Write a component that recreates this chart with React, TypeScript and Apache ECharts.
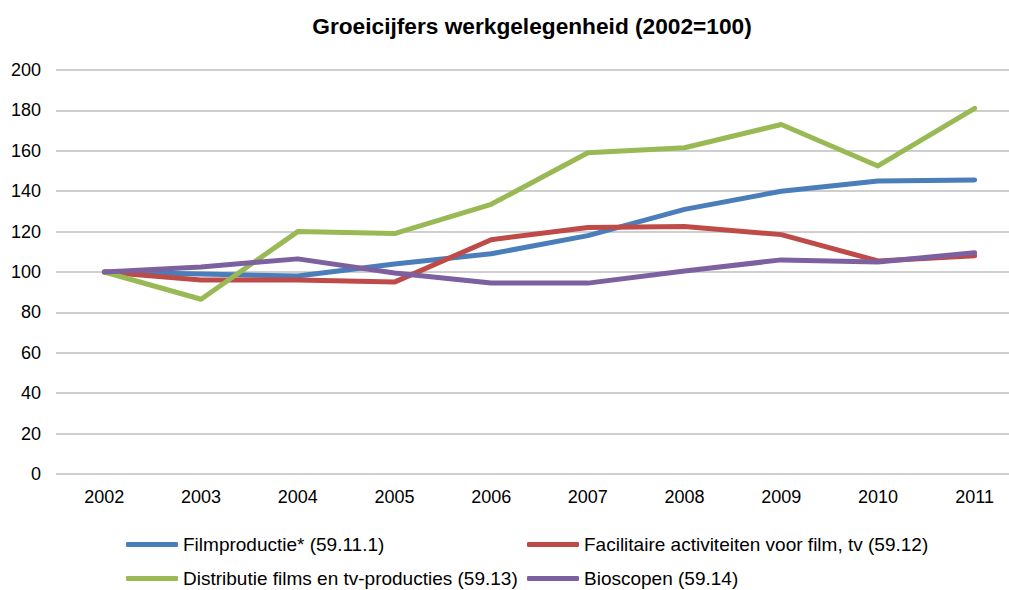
import React, { useEffect, useRef } from "react";
import * as echarts from "echarts";

const years = ["2002", "2003", "2004", "2005", "2006", "2007", "2008", "2009", "2010", "2011"];
const filmproductie = [100, 99, 98, 104, 109, 118, 131, 140, 145, 145.5];
const facilitaire = [100, 96, 96, 95, 116, 122, 122.5, 118.5, 105.5, 108];
const distributie = [100, 86.5, 120, 119, 133.5, 159, 161.5, 173, 152.5, 181];
const bioscopen = [100, 102.5, 106.5, 99.5, 94.5, 94.5, 100.5, 106, 105, 109.5];

const names = [
  "Filmproductie* (59.11.1)",
  "Facilitaire activiteiten voor film, tv (59.12)",
  "Distributie films en tv-producties (59.13)",
  "Bioscopen (59.14)",
];
const colors = ["#4a7ebb", "#be4b48", "#98b954", "#7d60a0"];

export default function App() {
  const ref = useRef<HTMLDivElement>(null);
  useEffect(() => {
    document.body.style.margin = "0";
    const chart = echarts.init(ref.current!, null, { renderer: "svg" });
    const font = "Liberation Sans, Arial, sans-serif";
    const dataSets = [filmproductie, facilitaire, distributie, bioscopen];
    const legendText = { fontSize: 19, color: "#000", fontFamily: font };
    const legendPos = [
      { left: 121, top: 530 },
      { left: 522, top: 530 },
      { left: 121, top: 564 },
      { left: 522, top: 564 },
    ];
    chart.setOption({
      animation: false,
      title: {
        text: "Groeicijfers werkgelegenheid (2002=100)",
        left: 527,
        textAlign: "center",
        top: 9,
        textStyle: { fontSize: 22.7, fontWeight: "bold", color: "#000", fontFamily: font },
      },
      legend: names.map((n, i) => ({
        ...legendPos[i],
        itemWidth: 52,
        itemHeight: 5,
        data: [n],
        textStyle: legendText,
        icon: "roundRect",
      })),
      grid: { left: 56, right: 0, top: 70, bottom: 116, containLabel: false },
      xAxis: {
        type: "category",
        data: years,
        boundaryGap: true,
        axisLine: { show: false },
        axisTick: { show: false },
        axisLabel: { fontSize: 18, color: "#000", fontFamily: font, margin: 14 },
      },
      yAxis: {
        type: "value",
        min: 0,
        max: 200,
        interval: 20,
        axisLine: { show: false },
        axisTick: { show: false },
        axisLabel: { fontSize: 18, color: "#000", fontFamily: font, margin: 15 },
        splitLine: { lineStyle: { color: "#bfbfbf", width: 1.5 } },
      },
      series: dataSets.map((d, i) => ({
        name: names[i],
        type: "line",
        data: d,
        symbol: "none",
        lineStyle: { width: 5, color: colors[i], cap: "round", join: "round" },
        itemStyle: { color: colors[i] },
      })),
    });
    return () => chart.dispose();
  }, []);
  return (
    <div style={{ width: 1009, height: 590, overflow: "hidden", position: "relative" }}>
      <div ref={ref} style={{ width: 1023, height: 590 }} />
    </div>
  );
}
